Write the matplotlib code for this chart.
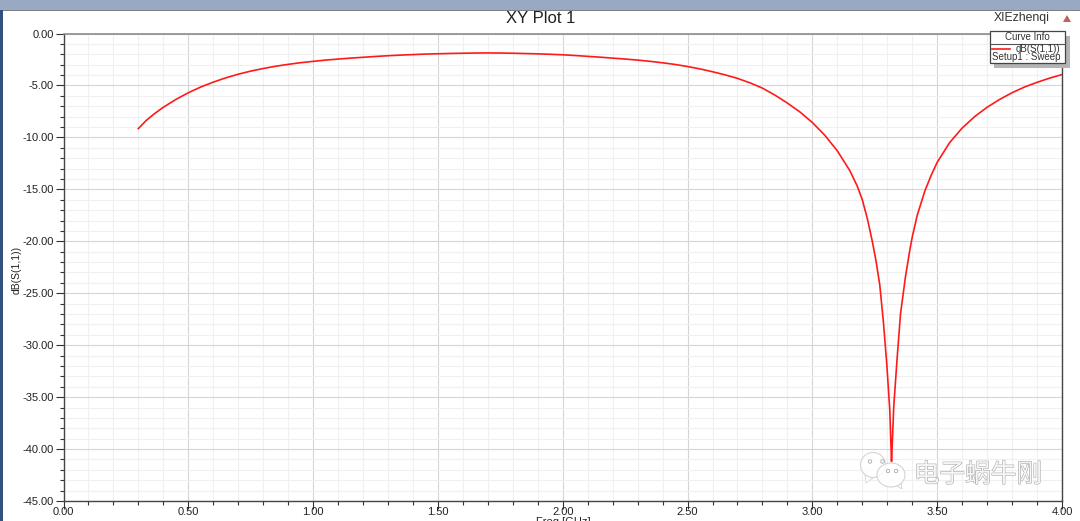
import numpy as np
import matplotlib
matplotlib.use("Agg")
import matplotlib.pyplot as plt
from matplotlib.patches import Rectangle, Ellipse, Polygon
from matplotlib.ticker import MultipleLocator, FormatStrFormatter
import matplotlib.patheffects as pe

# values
freq = [0.30, 0.33, 0.36, 0.40, 0.45, 0.50, 0.55, 0.60, 0.65, 0.70, 0.75, 0.80, 0.85, 0.90, 0.95,
        1.00, 1.05, 1.10, 1.15, 1.20, 1.25, 1.30, 1.35, 1.40, 1.45, 1.50, 1.55, 1.60, 1.65, 1.70,
        1.75, 1.80, 1.85, 1.90, 1.95, 2.00, 2.05, 2.10, 2.15, 2.20, 2.25, 2.30, 2.35, 2.40, 2.45,
        2.50, 2.55, 2.60, 2.65, 2.70, 2.75, 2.80, 2.85, 2.90, 2.95, 3.00, 3.05, 3.10, 3.15, 3.18,
        3.20, 3.22, 3.24, 3.255, 3.27, 3.285, 3.298, 3.31, 3.317, 3.318, 3.326, 3.34, 3.353, 3.373,
        3.39, 3.40, 3.42, 3.45, 3.475, 3.50, 3.55, 3.60, 3.65, 3.70, 3.75, 3.80, 3.85, 3.90, 3.95, 4.00]
s11 = [-9.15, -8.4, -7.8, -7.1, -6.35, -5.7, -5.15, -4.68, -4.27, -3.92, -3.62, -3.37, -3.15, -2.97, -2.81,
       -2.68, -2.56, -2.46, -2.37, -2.29, -2.21, -2.14, -2.08, -2.03, -1.98, -1.95, -1.92, -1.9, -1.88, -1.87,
       -1.88, -1.9, -1.93, -1.96, -2.0, -2.05, -2.12, -2.2, -2.28, -2.37, -2.46, -2.56, -2.68, -2.82, -2.98,
       -3.18, -3.41, -3.68, -3.98, -4.32, -4.75, -5.26, -5.93, -6.7, -7.55, -8.57, -9.8, -11.3, -13.2, -14.7,
       -16.0, -17.8, -20.0, -21.9, -24.2, -27.9, -31.8, -36.2, -41.2, -40.7, -35.9, -31.1, -27.0, -23.4,
       -20.9, -19.6, -17.5, -15.2, -13.7, -12.4, -10.5, -9.1, -8.0, -7.1, -6.35, -5.7, -5.15, -4.7, -4.3, -3.95]

title = "XY Plot 1"
x_label = "Freq [GHz]"
y_label = "dB(S(1,1))"
project = "XIEzhenqi"
legend_head = "Curve Info"
legend_name = "dB(S(1,1))"
legend_setup = "Setup1 : Sweep"
watermark = "电子蜗牛刚"

W, H = 1080, 521
plt.rcParams['font.family'] = ['Liberation Sans', 'DejaVu Sans']

fig = plt.figure(figsize=(W / 100, H / 100), dpi=100, facecolor='white')
ax = fig.add_axes([63.5 / W, 1 - 501 / H, (1062 - 63.5) / W, (501 - 33.5) / H])

ax.plot(freq, s11, color='#ff1a1a', lw=1.2, zorder=3)
ax.set_xlim(0, 4)
ax.set_ylim(-45, 0)

ax.xaxis.set_major_locator(MultipleLocator(0.5))
ax.xaxis.set_minor_locator(MultipleLocator(0.1))
ax.yaxis.set_major_locator(MultipleLocator(5))
ax.yaxis.set_minor_locator(MultipleLocator(1))
ax.xaxis.set_major_formatter(FormatStrFormatter('%.2f'))
ax.yaxis.set_major_formatter(FormatStrFormatter('%.2f'))

ax.grid(which='major', color='#d6d6d6', lw=0.8)
ax.grid(which='minor', color='#f0f0f0', lw=0.8)
ax.set_axisbelow(True)

ax.tick_params(which='major', length=6, width=0.8, color='#333333', labelsize=8, labelcolor='#222222', pad=1)
ax.tick_params(which='minor', length=3, width=0.8, color='#333333')
ax.tick_params(axis='x', which='major', pad=-2)
for side in ['left', 'bottom', 'right']:
    ax.spines[side].set_color('#444444')
    ax.spines[side].set_linewidth(1.0)
ax.spines['top'].set_color('#8c8c8c')
ax.spines['top'].set_linewidth(1.2)

# everything outside the plot, in pixels
over = fig.add_axes([0, 0, 1, 1], facecolor='none')
over.set_xlim(0, W)
over.set_ylim(H, 0)
over.axis('off')

over.add_patch(Rectangle((0, 0), W, 9.5, color='#9aa9c3', lw=0))
over.add_patch(Rectangle((0, 9.5), W, 1.5, color='#808080', lw=0))
over.add_patch(Rectangle((0, 9.5), 3, H, color='#34507f', lw=0))

over.text(541, 18.5, title, ha='center', va='center', fontsize=12, color='#222222')
over.text(1022, 18.5, project, ha='center', va='center', fontsize=8.8, color='#333333')
over.add_patch(Polygon([[1063, 22], [1071, 22], [1067, 15]], color='#c0605c', lw=0))
over.text(17, 270, y_label, ha='center', va='center', rotation=90, fontsize=7.5, color='#222222')
over.text(563, 522, x_label, ha='center', va='center', fontsize=8, color='#222222')

# legend box
over.add_patch(Rectangle((994, 36), 76, 32, color='#b4b4b4', lw=0, zorder=4))
over.add_patch(Rectangle((989.5, 31), 75.5, 32, fc='white', ec='#444444', lw=0.9, zorder=5))
over.plot([989.5, 1065], [43.5, 43.5], color='#555555', lw=0.8, zorder=6)
over.plot([992, 1010], [49, 49], color='#ff1a1a', lw=1.2, zorder=6)
over.text(1027.5, 37.5, legend_head, ha='center', va='center', fontsize=7, color='#333333', zorder=6)
over.text(1060, 49.5, legend_name, ha='right', va='center', fontsize=7, color='#333333', zorder=6)
over.text(991.5, 57.5, legend_setup, ha='left', va='center', fontsize=7, color='#333333', zorder=6)

# watermark
for cx, cy, rx, ry in [(873, 465, 12.5, 12.5), (891, 475, 14, 12)]:
    over.add_patch(Ellipse((cx, cy), 2 * rx, 2 * ry, fc=(1, 1, 1, 0.85), ec='#d4d4d4', lw=0.8, zorder=7))
over.add_patch(Polygon([[865, 475], [866, 483], [873, 478]], fc='white', ec='#d4d4d4', lw=0.6, zorder=6))
over.add_patch(Polygon([[897, 486], [902, 489], [901, 483]], fc='white', ec='#d4d4d4', lw=0.6, zorder=6))
for cx, cy in [(870, 461.5), (882.5, 461.5), (888, 471), (896, 471)]:
    over.add_patch(Ellipse((cx, cy), 3.5, 3.5, fc='white', ec='#aaaaaa', lw=0.6, zorder=8))
over.text(978, 475, watermark, ha='center', va='center', fontsize=18.5, family=['Noto Sans CJK SC', 'DejaVu Sans'],
          color='#f6f6f6', zorder=8,
          path_effects=[pe.withStroke(linewidth=0.7, foreground='#a0a0a0')])

fig.savefig('out.png', dpi=100)
